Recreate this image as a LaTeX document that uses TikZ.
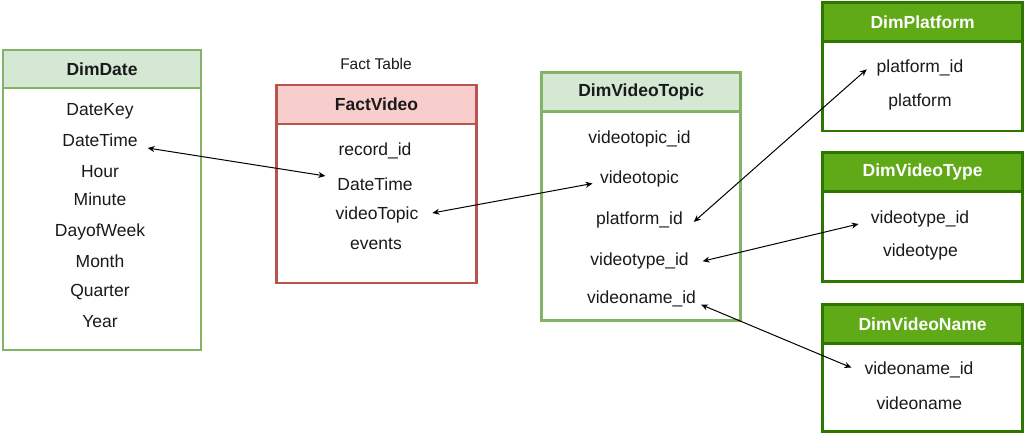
\documentclass[tikz,border=0pt]{standalone}
\usepackage{fontspec}
\setmainfont{Liberation Sans}
\usetikzlibrary{arrows.meta}
\definecolor{lgfill}{HTML}{D5E8D4}
\definecolor{lgline}{HTML}{82B366}
\definecolor{rdfill}{HTML}{F8CECC}
\definecolor{rdline}{HTML}{B85450}
\definecolor{dgfill}{HTML}{60A917}
\definecolor{dgline}{HTML}{2D7600}
\definecolor{txt}{HTML}{1A1A1A}
\tikzset{
  tbody/.style={draw, line width=2.7pt, fill=white, anchor=north west, outer sep=0pt, inner sep=0pt},
  thead/.style={draw, line width=2.7pt, anchor=north west, outer sep=0pt, inner sep=0pt,
    font=\fontsize{17.5}{20}\selectfont\bfseries, text=txt},
  dhead/.style={thead, fill=dgfill, draw=dgline, text=white},
  fld/.style={inner sep=0pt, outer sep=0pt, text height=14pt, text depth=1pt,
    font=\fontsize{17.5}{20}\selectfont, text=txt},
  link/.style={line width=1pt, {Stealth[length=7pt,width=6pt]}-{Stealth[length=7pt,width=6pt]}}
}
\begin{document}
\begin{tikzpicture}[x=1pt,y=-1pt]
\useasboundingbox[fill=white] (0,0) rectangle (1024,435);

% DimDate
\node[tbody, draw=lgline, minimum width=198pt, minimum height=300pt] (dd) at (3,50) {};
\node[thead, fill=lgfill, draw=lgline, minimum width=198pt, minimum height=38pt] (ddh) at (3,50) {DimDate};
\node[fld] (dd1) at (100,109) {DateKey};
\node[fld] (dd2) at (100,140) {DateTime};
\node[fld] (dd3) at (100,171) {Hour};
\node[fld] (dd4) at (100,199) {Minute};
\node[fld] (dd5) at (100,230) {DayofWeek};
\node[fld] (dd6) at (100,261) {Month};
\node[fld] (dd7) at (100,290) {Quarter};
\node[fld] (dd8) at (100,321) {Year};

% FactVideo
\node[fld, font=\fontsize{15.5}{18}\selectfont] (ft) at (376,63) {Fact Table};
\node[tbody, draw=rdline, minimum width=200pt, minimum height=198pt] (fv) at (276.5,85) {};
\node[thead, fill=rdfill, draw=rdline, minimum width=200pt, minimum height=39pt] (fvh) at (276.5,85) {FactVideo};
\node[fld] (fv1) at (375,149) {record\_id};
\node[fld] (fv2) at (375,184) {DateTime};
\node[fld] (fv3) at (377,213) {videoTopic};
\node[fld] (fv4) at (376,243) {events};

% DimVideoTopic
\node[tbody, draw=lgline, minimum width=199pt, minimum height=248pt] (vt) at (541.7,72.3) {};
\node[thead, fill=lgfill, draw=lgline, minimum width=199pt, minimum height=39.4pt] (vth) at (541.7,72.3) {DimVideoTopic};
\node[fld] (vt1) at (639.5,137) {videotopic\_id};
\node[fld] (vt2) at (639.5,177.5) {videotopic};
\node[fld] (vt3) at (639.5,218.5) {platform\_id};
\node[fld] (vt4) at (639.5,259.5) {videotype\_id};
\node[fld] (vt5) at (641.5,297) {videoname\_id};

% DimPlatform
\node[tbody, draw=dgline, minimum width=199.8pt, minimum height=128.7pt] (pf) at (822.7,2.3) {};
\node[dhead, minimum width=199.8pt, minimum height=39.4pt] (pfh) at (822.7,2.3) {DimPlatform};
\node[fld] (pf1) at (920,66) {platform\_id};
\node[fld] (pf2) at (920,100.5) {platform};

% DimVideoType
\node[tbody, draw=dgline, minimum width=199.8pt, minimum height=129.4pt] (ty) at (822.7,152.3) {};
\node[dhead, minimum width=199.8pt, minimum height=39.4pt] (tyh) at (822.7,152.3) {DimVideoType};
\node[fld] (ty1) at (920,216.7) {videotype\_id};
\node[fld] (ty2) at (920.5,250) {videotype};

% DimVideoName
\node[tbody, draw=dgline, minimum width=199.8pt, minimum height=127.4pt] (nm) at (822.7,304.3) {};
\node[dhead, minimum width=199.8pt, minimum height=39pt] (nmh) at (822.7,304.3) {DimVideoName};
\node[fld] (nm1) at (919,367.7) {videoname\_id};
\node[fld] (nm2) at (919.3,403.3) {videoname};

% links
\draw[link] ([xshift=10pt,yshift=-8pt]dd2.east) -- ([xshift=-12pt,yshift=8pt]fv2.west);
\draw[link] ([xshift=14pt]fv3.east) -- ([xshift=-7.6pt,yshift=-6pt]vt2.west);
\draw[link] ([xshift=11pt,yshift=-3.4pt]vt3.east) -- ([xshift=-10pt,yshift=-3.3pt]pf1.west);
\draw[link] ([xshift=14pt,yshift=-1.7pt]vt4.east) -- ([xshift=-12.3pt,yshift=-7.3pt]ty1.west);
\draw[link] ([xshift=5pt,yshift=-7.6pt]vt5.east) -- ([xshift=-13pt]nm1.west);
\end{tikzpicture}
\end{document}
